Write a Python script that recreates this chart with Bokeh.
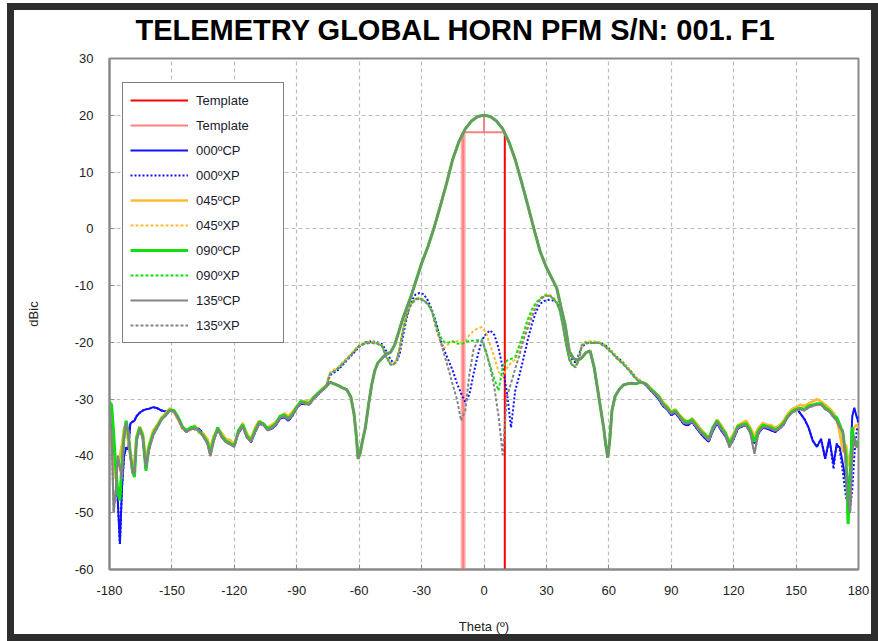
from bokeh.plotting import figure
from bokeh.models import Range1d, FixedTicker, Legend, LegendItem, Title
from bokeh.embed import file_html
from bokeh.resources import INLINE

# ---------------- data ----------------
title_text = "TELEMETRY GLOBAL HORN PFM S/N: 001. F1"
x_ticks = [-180, -150, -120, -90, -60, -30, 0, 30, 60, 90, 120, 150, 180]
x_tick_labels = ["-180", "-150", "-120", "-90", "-60", "-30", "0", "30", "60", "90", "120", "150", "180"]
y_ticks = [-60, -50, -40, -30, -20, -10, 0, 10, 20, 30]
y_tick_labels = ["-60", "-50", "-40", "-30", "-20", "-10", "0", "10", "20", "30"]

# template mask
template_red_x = [10, 10]
template_red_y = [17, -60]
template_pink_x = [-10, -10, 10]
template_pink_y = [-60, 17, 17]
template_tick_x = [0, 0]
template_tick_y = [17, 20]

# far-left sidelobe region (shared theta)
theta_far_left = [-180, -179, -178, -177, -176, -175, -174, -173, -172, -171, -170, -169, -168, -167,
                  -165.5, -164, -162.5, -161, -159, -157, -155, -153, -151, -149, -147, -145, -143, -141,
                  -139, -137, -135, -133, -131.5, -130, -128, -126, -124, -122, -120, -118, -116, -114,
                  -112, -110, -108, -106, -104, -102, -100, -98, -96, -94, -92, -90, -88, -86, -84, -82,
                  -80, -78, -76]
far_left_green = [-30.5, -31.0, -36.0, -42.0, -46.5, -47.8, -41.0, -36.5, -33.8, -36.0, -39.5, -42.5, -43.7, -37.0,
                  -35.0, -36.5, -42.6, -38.4, -36.1, -34.8, -33.5, -32.8, -31.9, -32.0, -33.2, -34.8, -35.6, -35.0,
                  -34.9, -35.6, -36.4, -37.5, -39.6, -37.2, -35.0, -36.5, -37.4, -37.8, -38.2, -35.5, -34.5, -36.5,
                  -37.3, -35.5, -34.0, -34.3, -35.2, -34.9, -34.3, -33.0, -32.8, -33.4, -32.6, -31.4, -30.4, -30.6,
                  -30.8, -29.8, -29.0, -28.4, -27.8]
far_left_orange = [-33.0, -38.0, -43.0, -44.0, -41.5, -40.0, -38.0, -35.0, -34.5, -37.5, -40.0, -41.5, -41.0, -36.5,
                   -34.8, -36.0, -40.5, -38.0, -35.5, -34.5, -33.2, -32.5, -31.6, -32.3, -33.5, -35.2, -35.3, -35.4,
                   -34.6, -35.9, -36.0, -37.0, -38.8, -36.5, -35.3, -36.0, -37.0, -37.2, -38.0, -35.8, -34.2, -36.0,
                   -37.0, -35.0, -33.8, -34.6, -35.0, -34.5, -34.0, -33.2, -32.5, -33.0, -32.2, -31.2, -30.6, -30.3,
                   -30.5, -29.6, -29.2, -28.2, -27.6]
far_left_gray = [-31.5, -36.0, -50.0, -46.0, -40.0, -42.0, -44.0, -37.0, -34.2, -35.5, -40.0, -43.0, -43.0, -37.5,
                 -35.3, -37.0, -42.0, -39.0, -36.4, -35.0, -33.6, -32.9, -32.0, -32.2, -33.4, -35.0, -35.8, -35.3,
                 -35.2, -35.4, -36.6, -37.8, -40.0, -37.5, -35.3, -36.8, -37.6, -38.0, -38.4, -35.8, -34.8, -36.8,
                 -37.5, -35.8, -34.2, -34.5, -35.5, -35.1, -34.5, -33.3, -33.0, -33.6, -32.8, -31.6, -30.6, -30.8,
                 -31.0, -30.0, -29.2, -28.5, -27.9]
far_left_blue = [-35.0, -37.0, -40.0, -42.0, -48.0, -55.5, -45.6, -40.0, -38.5, -38.8, -34.3, -34.0, -33.8, -33.0,
                 -32.4, -32.0, -31.8, -31.7, -31.4, -31.6, -32.0, -32.2, -31.8, -32.2, -33.6, -35.0, -35.8, -35.0,
                 -35.3, -35.2, -36.2, -37.2, -38.6, -37.0, -35.5, -36.2, -37.3, -37.6, -38.0, -36.0, -34.8, -36.2,
                 -37.6, -35.8, -34.3, -34.6, -35.4, -35.2, -34.6, -33.4, -33.2, -33.8, -32.9, -31.5, -30.8, -30.9,
                 -30.6, -29.9, -29.3, -28.5, -27.9]

# far-right sidelobe region (shared theta)
theta_far_right = [78, 80, 82, 84, 86, 88, 90, 92, 94, 96, 98, 100, 102, 104, 106, 108, 110, 112, 114, 116,
                   118, 120, 122, 124, 126, 128, 130, 132, 134, 136, 138, 140, 142, 144, 146, 148, 150, 152,
                   154, 156, 158, 160, 162, 164, 166, 168, 169.5, 171, 172.5, 174, 175, 176, 177, 178, 179, 180]
far_right_green = [-27.4, -28.2, -28.8, -29.6, -30.8, -31.5, -32.4, -32.0, -33.0, -33.8, -34.0, -33.6, -34.6, -35.6,
                   -36.2, -37.0, -35.0, -33.8, -35.0, -36.0, -37.8, -36.5, -34.8, -34.5, -34.3, -35.5, -37.5, -35.5,
                   -34.6, -34.8, -35.0, -35.4, -35.0, -34.2, -33.0, -32.2, -31.8, -31.6, -31.8, -31.2, -31.0, -30.8,
                   -30.8, -31.5, -32.0, -33.0, -33.2, -34.5, -36.0, -40.0, -52.0, -44.0, -35.0, -38.0, -37.5, -38.0]
far_right_orange = [-27.2, -28.0, -29.0, -29.4, -30.5, -31.2, -32.2, -31.8, -32.8, -33.5, -34.2, -33.4, -34.2, -35.2,
                    -36.0, -36.8, -35.2, -33.6, -34.6, -35.8, -37.4, -36.0, -34.6, -34.2, -33.8, -35.0, -36.5, -35.0,
                    -34.2, -34.5, -34.6, -35.0, -34.6, -33.8, -32.6, -31.8, -31.4, -31.0, -31.2, -30.8, -30.4, -30.0,
                    -30.4, -31.0, -31.6, -32.4, -33.5, -36.0, -39.3, -38.0, -41.0, -42.0, -36.0, -35.0, -34.5, -35.0]
far_right_gray = [-27.5, -28.4, -29.0, -29.8, -31.0, -31.7, -32.6, -32.2, -33.2, -34.2, -34.3, -33.9, -34.8, -35.8,
                  -36.5, -37.3, -35.3, -34.0, -35.3, -36.3, -38.5, -36.8, -35.0, -34.7, -34.6, -36.0, -39.6, -35.8,
                  -34.9, -35.0, -35.2, -35.6, -35.2, -34.4, -33.2, -32.4, -32.0, -31.8, -32.0, -31.5, -31.2, -31.0,
                  -31.0, -31.8, -32.2, -33.2, -33.8, -35.0, -35.5, -42.0, -48.0, -50.0, -40.0, -36.5, -38.5, -38.0]
far_right_blue_cp = [-27.6, -28.4, -29.2, -30.0, -31.2, -31.8, -32.8, -32.4, -33.4, -34.4, -34.6, -34.0, -35.0, -36.0,
                     -36.8, -37.5, -35.6, -34.2, -35.5, -36.5, -38.2, -37.0, -35.2, -34.8, -34.6, -35.8, -37.8, -36.0,
                     -35.0, -35.2, -35.5, -35.8, -35.2, -34.5, -33.0, -31.8, -31.4, -32.5, -33.5, -35.0, -37.3, -38.4,
                     -37.0, -40.5, -37.0, -41.5, -38.0, -38.5, -41.4, -44.5, -47.5, -42.0, -33.0, -31.5, -33.0, -34.0]
far_right_blue_xp = [-27.6, -28.4, -29.2, -30.0, -31.2, -31.8, -32.8, -32.4, -33.4, -34.4, -34.6, -34.0, -35.0, -36.0,
                     -36.8, -37.5, -35.6, -34.2, -35.5, -36.5, -38.2, -37.0, -35.2, -34.8, -34.6, -35.8, -37.8, -36.0,
                     -35.0, -35.2, -35.5, -35.8, -35.2, -34.5, -33.0, -31.8, -31.4, -32.5, -33.5, -35.0, -37.3, -38.4,
                     -37.0, -40.5, -37.0, -42.3, -37.8, -39.0, -43.0, -47.3, -48.4, -49.0, -46.0, -40.0, -36.0, -33.0]

# co-polar main beam region (shared by the four CP cuts)
theta_cp = [-74, -72, -70, -68, -66, -64, -62.5, -61.5, -60.5, -59.5, -58.5, -57, -55.5, -54, -52.5, -51, -49, -47,
            -45, -43, -41, -39, -37, -35, -33, -30, -27, -24, -21, -18, -15, -12, -9, -6, -3, 0, 3, 6, 9, 12,
            15, 18, 21, 24, 27, 30, 33, 35, 37, 39, 41, 43, 45, 47, 49, 51, 53, 54.5, 56, 57.5, 58.5, 59.5,
            60.5, 61.5, 63, 65, 67, 69, 71, 73, 75, 77]
cp_main = [-27.0, -27.3, -27.6, -28.0, -28.3, -29.6, -32.5, -36.0, -40.5, -39.5, -37.5, -35.0, -31.0, -27.5, -25.0,
           -23.6, -22.8, -22.0, -21.8, -20.5, -18.2, -15.8, -13.8, -11.8, -9.5, -6.1, -3.2, 0.2, 4.0, 8.0, 12.3,
           15.4, 17.6, 19.0, 19.8, 20.0, 19.8, 19.0, 17.6, 15.3, 12.2, 8.3, 4.2, 0.0, -4.0, -6.8, -9.0, -10.5,
           -13.8, -16.9, -21.6, -22.8, -23.2, -22.7, -21.8, -21.5, -24.5, -28.0, -31.5, -35.0, -38.0, -40.3,
           -37.0, -32.0, -29.5, -28.3, -27.5, -27.3, -27.2, -27.3, -27.0, -27.2]

# cross-polar region
theta_xp = [-74, -70, -66, -63, -60, -57, -54, -51, -49, -47, -45, -43.5, -42, -40.5, -39, -37, -35, -33, -31, -29,
            -27, -25, -23, -21, -19, -17, -15, -13, -11, -9, -7, -5, -3, -1, 1, 3, 5, 7, 9, 11, 13, 15, 17, 19,
            21, 23, 25, 27, 29, 31, 33, 35, 36.5, 38, 39.5, 41, 42.5, 44, 45.5, 47, 49, 52, 55, 58, 61, 64, 67,
            70, 73, 76]
xp_000 = [-25.8, -24.8, -23.2, -22.0, -20.8, -20.0, -19.8, -20.0, -20.3, -21.5, -23.0, -23.6, -23.5, -22.0, -19.0,
          -15.5, -12.8, -11.6, -11.3, -11.5, -12.6, -14.3, -16.5, -19.5, -21.5, -23.2, -25.0, -27.2, -29.0, -30.5,
          -29.2, -25.5, -22.3, -19.6, -18.5, -17.9, -18.7, -21.0, -24.5, -28.8, -35.0, -28.5, -25.8, -22.8, -19.6,
          -16.8, -14.6, -13.2, -12.7, -12.5, -12.6, -13.0, -13.8, -15.8, -19.0, -22.0, -23.2, -23.5, -22.2, -20.8,
          -20.2, -20.0, -20.0, -20.4, -21.4, -22.6, -23.6, -24.8, -26.2, -27.0]
xp_045 = [-25.3, -24.3, -22.8, -21.6, -20.4, -19.9, -19.9, -20.1, -20.5, -22.3, -23.6, -23.8, -23.0, -20.8, -17.8,
          -14.8, -13.0, -12.3, -12.1, -12.5, -13.1, -14.6, -17.5, -19.8, -21.0, -20.3, -19.8, -19.8, -20.0, -19.8,
          -18.7, -18.0, -17.5, -17.3, -18.3, -20.5, -22.6, -25.2, -26.0, -24.5, -23.6, -23.0, -21.2, -19.0, -17.0,
          -14.8, -13.3, -12.2, -11.6, -11.5, -11.9, -12.8, -14.3, -17.0, -20.2, -22.8, -23.9, -24.2, -23.0, -20.3,
          -19.8, -19.8, -19.9, -20.4, -21.4, -22.6, -23.6, -24.8, -26.2, -26.9]
xp_090 = [-25.5, -24.5, -23.0, -21.8, -20.6, -20.1, -20.0, -20.2, -20.6, -22.5, -23.8, -23.9, -23.2, -21.0, -18.0,
          -15.0, -13.2, -12.4, -12.2, -12.6, -13.2, -14.6, -16.8, -19.0, -20.0, -20.0, -19.8, -20.2, -20.3, -20.0,
          -19.7, -19.7, -19.6, -19.5, -21.8, -24.2, -26.5, -28.5, -24.3, -23.2, -22.9, -22.6, -20.5, -18.3, -16.0,
          -14.2, -13.0, -12.3, -11.8, -11.7, -12.1, -13.0, -14.5, -17.3, -20.5, -23.0, -24.0, -24.3, -23.2, -20.5,
          -20.0, -20.0, -20.0, -20.6, -21.6, -22.8, -23.8, -25.0, -26.4, -27.0]
xp_135 = [-25.6, -24.6, -23.1, -21.9, -20.7, -20.2, -20.1, -20.3, -20.7, -22.6, -23.9, -24.0, -23.3, -21.1, -18.1,
          -15.1, -13.3, -12.5, -12.3, -12.7, -13.3, -14.5, -17.5, -19.7, -22.3, -24.8, -27.5, -30.0, -33.8, -32.0,
          -25.5, -21.2, -19.8, -19.8, -21.5, -24.5, -28.0, -33.0, -39.8, -29.5, -27.2, -24.6, -22.3, -19.5, -17.5,
          -15.5, -13.8, -12.5, -11.9, -11.8, -12.2, -13.1, -14.6, -17.4, -20.6, -23.1, -24.1, -24.4, -23.3, -20.6,
          -20.1, -20.1, -20.1, -20.7, -21.7, -22.9, -23.9, -25.1, -26.5, -27.1]

# ---------------- figure ----------------
# the dark frame (7px) is drawn with CSS; canvas is 14px larger so that the
# visible content area is 857 x 624 inside the border box
p = figure(width=871, height=638, x_range=Range1d(-180, 180), y_range=Range1d(-60, 30),
           output_backend="svg", toolbar_location=None,
           min_border_left=95, min_border_right=27, min_border_top=48, min_border_bottom=79)
p.styles = {"border": "7px solid #2d2d2d", "margin-left": "7px", "margin-top": "3px"}

# a small empty spacer panel between the frame and the title lifts the title
p.add_layout(Title(text=" ", text_font="Liberation Sans", text_font_size="10px", standoff=0), "above")
p.add_layout(Title(text=title_text, text_font="Liberation Sans", text_font_size="29px",
                   text_font_style="bold", text_color="#000000", align="left", offset=26,
                   standoff=0), "above")

p.outline_line_color = "#8a8a8a"
p.outline_line_width = 2
p.background_fill_color = "white"
p.border_fill_color = "white"

for ax in (p.xaxis[0], p.yaxis[0]):
    ax.axis_line_color = "#8a8a8a"
    ax.axis_line_width = 2
    ax.major_tick_line_color = "#8a8a8a"
    ax.major_tick_in = 5
    ax.major_tick_out = 0
    ax.minor_tick_line_color = None
    ax.major_label_text_font = "Liberation Sans"
    ax.major_label_text_font_size = "13px"
    ax.major_label_text_color = "#222222"
    ax.axis_label_text_font = "Liberation Sans"
    ax.axis_label_text_font_size = "13px"
    ax.axis_label_text_font_style = "normal"
    ax.axis_label_text_color = "#222222"
    ax.major_label_standoff = 16

p.xaxis[0].ticker = FixedTicker(ticks=x_ticks)
p.xaxis[0].major_label_overrides = dict(zip(x_ticks, x_tick_labels))
p.yaxis[0].ticker = FixedTicker(ticks=y_ticks)
p.yaxis[0].major_label_overrides = dict(zip(y_ticks, y_tick_labels))
p.xaxis[0].axis_label = "Theta (º)"
p.yaxis[0].axis_label = "dBic"
p.xaxis[0].axis_label_standoff = 21
p.yaxis[0].axis_label_standoff = 31

p.xgrid.ticker = FixedTicker(ticks=x_ticks)
p.ygrid.ticker = FixedTicker(ticks=y_ticks)
for g in (p.xgrid[0], p.ygrid[0]):
    g.grid_line_color = "#bcbcbc"
    g.grid_line_dash = "4 3"
    g.grid_line_width = 1.2

# template
r_t1 = p.line(template_red_x, template_red_y, line_color="#ff0000", line_width=2)
p.line([template_pink_x[0], template_pink_x[1]], [template_pink_y[0], template_pink_y[1]],
       line_color="#ff9a9a", line_width=5, line_alpha=0.8)
r_t2 = p.line(template_pink_x, template_pink_y, line_color="#ff8080", line_width=2)
p.line(template_tick_x, template_tick_y, line_color="#ff8080", line_width=2)

theta_all_cp = theta_far_left + theta_cp + theta_far_right
theta_all_xp = theta_far_left + theta_xp + theta_far_right

specs = [
    ("000ºCP", theta_all_cp, far_left_blue + cp_main + far_right_blue_cp, "#1010ff", 2.0, "solid"),
    ("000ºXP", theta_all_xp, far_left_blue + xp_000 + far_right_blue_xp, "#1010ff", 2.0, "2 2"),
    ("045ºCP", theta_all_cp, far_left_orange + cp_main + far_right_orange, "#ffbb33", 2.6, "solid"),
    ("045ºXP", theta_all_xp, far_left_orange + xp_045 + far_right_orange, "#ffbb33", 2.0, "3 2"),
    ("090ºCP", theta_all_cp, far_left_green + cp_main + far_right_green, "#10e010", 3.0, "solid"),
    ("090ºXP", theta_all_xp, far_left_green + xp_090 + far_right_green, "#10e010", 2.0, "3 2"),
    ("135ºCP", theta_all_cp, far_left_gray + cp_main + far_right_gray, "#848484", 2.0, "solid"),
    ("135ºXP", theta_all_xp, far_left_gray + xp_135 + far_right_gray, "#848484", 2.0, "3 2"),
]

items = [LegendItem(label="Template", renderers=[r_t1]),
         LegendItem(label="Template", renderers=[r_t2])]
for name, xs, ys, col, w, dash in specs:
    r = p.line(xs, ys, line_color=col, line_width=w, line_dash=dash)
    items.append(LegendItem(label=name, renderers=[r]))

legend = Legend(items=items, location=(13, 226))
legend.border_line_color = "#000000"
legend.border_line_width = 1.5
legend.background_fill_color = "white"
legend.background_fill_alpha = 1.0
legend.label_text_font = "Liberation Sans"
legend.label_text_font_size = "13px"
legend.label_text_color = "#1a1a2e"
legend.glyph_width = 58
legend.glyph_height = 20
legend.label_height = 20
legend.label_width = 80
legend.spacing = 5
legend.padding = 7
legend.margin = 0
legend.label_standoff = 8
p.add_layout(legend)

open("out.html", "w").write(file_html(p, INLINE))
